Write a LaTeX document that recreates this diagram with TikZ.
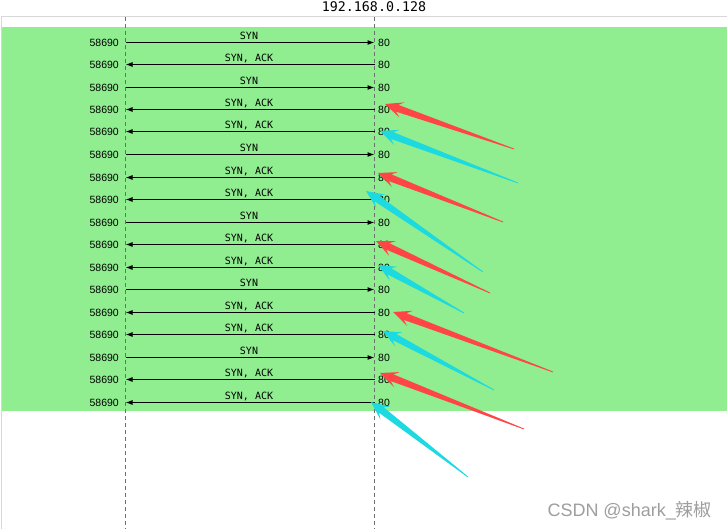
\documentclass[tikz,border=0pt]{standalone}
\usepackage{fontspec}
\setmainfont{Liberation Sans}
\setmonofont{DejaVu Sans Mono}
\newfontfamily\cjk{Noto Sans CJK SC}
\usetikzlibrary{arrows.meta,calc}
\definecolor{bandgreen}{HTML}{90EE90}
\definecolor{annred}{HTML}{FF4545}
\definecolor{anncyan}{HTML}{1CDAE0}
\definecolor{framegray}{HTML}{D8D8D8}
\definecolor{dashgray}{HTML}{6E6E6E}
\newcommand\annarrow[3]{%
  \coordinate (aS) at #1; \coordinate (aT) at #2;
  \coordinate (aH) at ($(aT)!18pt!(aS)$);
  \coordinate (aJ) at ($(aT)!13pt!(aS)$);
  \fill[#3] (aT) -- ($(aH)!8pt!90:(aS)$) -- ($(aJ)!3.6pt!90:(aS)$)
    -- ($(aS)!0.4pt!-90:(aT)$) -- ($(aS)!0.4pt!90:(aT)$)
    -- ($(aJ)!3.6pt!-90:(aS)$) -- ($(aH)!8pt!-90:(aS)$) -- cycle;}
\tikzset{
  msg/.style={line width=1pt,-{Latex[length=7pt,width=5pt]}},
  lifeline/.style={dashgray,line width=0.8pt,dash pattern=on 4pt off 3pt},
  port/.style={font=\fontsize{10.5}{12}\selectfont,inner sep=0pt},
  lbl/.style={font=\ttfamily\fontsize{10}{12}\selectfont,inner sep=0pt},
}
\begin{document}
\begin{tikzpicture}[x=1pt,y=-1pt]
\useasboundingbox (0,0) rectangle (727,529);
\fill[white] (0,0) rectangle (727,529);
% frame
\draw[framegray,line width=1pt] (1.5,529) -- (1.5,16.5) -- (727,16.5);
\fill[bandgreen] (2,27) rectangle (727,410.5);
% title
\node[font=\ttfamily\fontsize{13.3}{15}\selectfont,inner sep=0pt] (title) at (374,7) {192.168.0.128};
% lifelines
\coordinate (lt) at (125.5,17); \coordinate (lb) at (125.5,529);
\coordinate (rt) at (374.5,17); \coordinate (rb) at (374.5,529);
\draw[lifeline] (lt) -- (lb);
\draw[lifeline] (rt) -- (rb);
% messages
\foreach \i/\t/\yy in {1/s/42.5,2/a/64.5,3/s/87.5,4/a/109.5,5/a/131.5,6/s/154.5,7/a/177.5,8/a/199.5,9/s/222.5,10/a/244.5,11/a/267.5,12/s/289.5,13/a/312.5,14/a/334.5,15/s/357.5,16/a/379.5,17/a/402.5}{
  \coordinate (L\i) at (125.5,\yy);
  \coordinate (R\i) at (374.5,\yy);
  \node[port,anchor=east] (pl\i) at (119,\yy) {58690};
  \node[port,anchor=west] (pr\i) at (378,\yy) {80};
  \if\t s
    \draw[msg] (L\i) -- (R\i);
    \node[lbl] (m\i) at (249,\yy-6.5) {SYN};
  \else
    \draw[msg] (R\i) -- (L\i);
    \node[lbl] (m\i) at (249,\yy-6.5) {SYN, ACK};
  \fi
}
% annotation arrows
\annarrow{(514,149)}{(385,104)}{annred}
\annarrow{(518,183)}{(380,131)}{anncyan}
\annarrow{(503,222)}{(378,173)}{annred}
\annarrow{(483,272)}{(366,191)}{anncyan}
\annarrow{(490,293)}{(376,241)}{annred}
\annarrow{(464,313)}{(378,265)}{anncyan}
\annarrow{(553,372)}{(393,312)}{annred}
\annarrow{(494,390)}{(383,331)}{anncyan}
\annarrow{(524,429)}{(380,373)}{annred}
\annarrow{(468,477)}{(371,402)}{anncyan}
% watermark
\node[anchor=east,inner sep=0pt,text=black!38,font=\fontsize{18}{21}\selectfont] (wm) at (712,511) {CSDN @shark\_{\cjk 辣椒}};
\end{tikzpicture}
\end{document}
